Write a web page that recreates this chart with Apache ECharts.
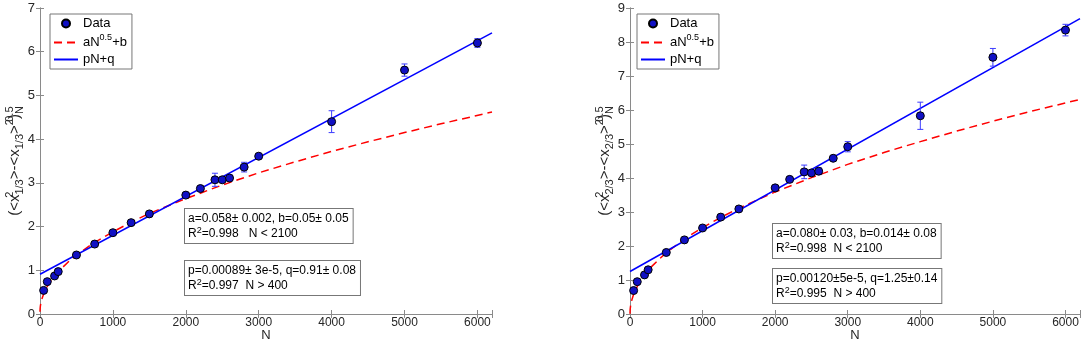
<!DOCTYPE html>
<html>
<head>
<meta charset="utf-8">
<script src="https://cdn.jsdelivr.net/npm/echarts@6/dist/echarts.min.js"></script>
<style>
  html, body { margin: 0; padding: 0; background: #fff; }
  #main { width: 1084px; height: 352px; }
</style>
</head>
<body>
<div id="main"></div>
<script>
// sample sizes (shared by both panels)
var nValues = [50, 100, 200, 250, 500, 750, 1000, 1250, 1500, 2000, 2200, 2400, 2500, 2600, 2800, 3000, 4000, 5000, 6000];

// left panel: x_{1/3}
var yLeft = [0.54, 0.74, 0.87, 0.97, 1.35, 1.60, 1.86, 2.09, 2.29, 2.72, 2.87, 3.07, 3.07, 3.11, 3.36, 3.61, 4.40, 5.58, 6.20];
var errLeft = [0.02, 0.02, 0.02, 0.02, 0.02, 0.02, 0.03, 0.03, 0.03, 0.03, 0.03, 0.15, 0.05, 0.07, 0.11, 0.04, 0.25, 0.14, 0.10];

// right panel: x_{2/3}
var yRight = [0.69, 0.95, 1.15, 1.30, 1.81, 2.18, 2.53, 2.85, 3.09, 3.71, 3.96, 4.18, 4.15, 4.20, 4.58, 4.92, 5.83, 7.55, 8.35];
var errRight = [0.02, 0.02, 0.02, 0.02, 0.02, 0.03, 0.03, 0.03, 0.03, 0.04, 0.04, 0.20, 0.08, 0.10, 0.06, 0.15, 0.40, 0.26, 0.17];

// fitted curves
var fitN = [0, 2, 5, 10, 25, 50, 100, 150, 200, 300, 400, 500, 750, 1000, 1250, 1500, 2000, 2500, 3000, 3500, 4000, 4500, 5000, 5500, 6200];
var sqrtFitLeft = [0.05, 0.13, 0.18, 0.23, 0.34, 0.46, 0.63, 0.76, 0.87, 1.05, 1.21, 1.35, 1.64, 1.88, 2.10, 2.30, 2.64, 2.95, 3.23, 3.48, 3.72, 3.94, 4.15, 4.35, 4.62];
var sqrtFitRight = [0.01, 0.13, 0.19, 0.27, 0.41, 0.58, 0.81, 0.99, 1.15, 1.40, 1.61, 1.80, 2.21, 2.54, 2.84, 3.11, 3.59, 4.01, 4.40, 4.75, 5.07, 5.38, 5.67, 5.95, 6.31];
var linN = [0, 6200];
var linFitLeft = [0.91, 6.43];
var linFitRight = [1.25, 8.69];

var font = '"Liberation Sans", Arial, sans-serif';
var axisGray = '#8a8a8a';
var labelColor = '#262626';

var myChart = echarts.init(document.getElementById('main'));

function pairs(xs, ys) {
    return xs.map(function (x, i) { return [x, ys[i]]; });
}
function triples(xs, ys, es) {
    return xs.map(function (x, i) { return [x, ys[i], es[i]]; });
}

function errorBarItem(params, api) {
    var x = api.value(0), y = api.value(1), e = api.value(2);
    var top = api.coord([x, y + e]);
    var bot = api.coord([x, y - e]);
    var hw = 3;
    var st = { stroke: '#3c3cff', lineWidth: 1 };
    return {
        type: 'group',
        children: [
            { type: 'line', shape: { x1: top[0], y1: top[1], x2: bot[0], y2: bot[1] }, style: st },
            { type: 'line', shape: { x1: top[0] - hw, y1: top[1], x2: top[0] + hw, y2: top[1] }, style: st },
            { type: 'line', shape: { x1: bot[0] - hw, y1: bot[1], x2: bot[0] + hw, y2: bot[1] }, style: st }
        ]
    };
}

// legend text
var legendRich = {
    n: { fontFamily: font, fontSize: 13, color: '#000' },
    sup: { fontFamily: font, fontSize: 9, color: '#000', verticalAlign: 'bottom', padding: [0, 0, 8, 0] }
};

// y axis title, sup0 has no width so it stacks over the following subscript
var nameRich = {
    n: { fontFamily: font, fontSize: 15, color: labelColor },
    sup0: { fontFamily: font, fontSize: 11, color: labelColor, width: 0, align: 'left', verticalAlign: 'bottom', padding: [0, 0, 10, 0] },
    sup: { fontFamily: font, fontSize: 11, color: labelColor, verticalAlign: 'bottom', padding: [0, 0, 10, 0] },
    sub: { fontFamily: font, fontSize: 11, color: labelColor, verticalAlign: 'top', padding: [10, 0, 0, 0] }
};

function yName(frac) {
    return '{n|(<x}{sup0|2}{sub|' + frac + '}{n|>-<x}{sub|' + frac + '}{n|>}{sup|2}{n|)}{sup0|0.5}{sub|N}';
}

function xAxisPair(gridIndex) {
    return [{
        gridIndex: gridIndex,
        type: 'value',
        min: 0,
        max: 6200,
        interval: 1000,
        name: 'N',
        nameLocation: 'middle',
        nameGap: 15,
        nameMoveOverlap: false,
        nameTextStyle: { fontFamily: font, fontSize: 13, color: labelColor },
        axisLine: { lineStyle: { color: axisGray } },
        axisTick: { inside: true, length: 4, lineStyle: { color: axisGray } },
        axisLabel: {
            margin: 3, fontFamily: font, fontSize: 12, color: labelColor,
            formatter: function (v) { return v % 1000 === 0 ? v : ''; }
        },
        splitLine: { show: false }
    }, {
        gridIndex: gridIndex,
        type: 'value',
        position: 'top',
        min: 0,
        max: 6200,
        interval: 1000,
        axisLine: { lineStyle: { color: axisGray } },
        axisTick: { inside: true, length: 4, lineStyle: { color: axisGray } },
        axisLabel: { show: false },
        splitLine: { show: false }
    }];
}

function yAxisPair(gridIndex, max, frac) {
    return [{
        gridIndex: gridIndex,
        type: 'value',
        min: 0,
        max: max,
        interval: 1,
        name: yName(frac),
        nameLocation: 'middle',
        nameGap: 15,
        nameMoveOverlap: false,
        nameTextStyle: { rich: nameRich },
        axisLine: { lineStyle: { color: axisGray } },
        axisTick: { inside: true, length: 4, lineStyle: { color: axisGray } },
        axisLabel: { margin: 5, fontFamily: font, fontSize: 13, color: labelColor },
        splitLine: { show: false }
    }, {
        gridIndex: gridIndex,
        type: 'value',
        position: 'right',
        min: 0,
        max: max,
        interval: 1,
        axisLine: { lineStyle: { color: axisGray } },
        axisTick: { inside: true, length: 4, lineStyle: { color: axisGray } },
        axisLabel: { show: false },
        splitLine: { show: false }
    }];
}

function panelSeries(axisIdx, ys, errs, sqrtFit, linFit) {
    return [{
        type: 'custom',
        xAxisIndex: axisIdx,
        yAxisIndex: axisIdx,
        renderItem: errorBarItem,
        encode: { x: 0, y: 1 },
        data: triples(nValues, ys, errs),
        z: 3
    }, {
        name: 'aN^0.5+b',
        type: 'line',
        xAxisIndex: axisIdx,
        yAxisIndex: axisIdx,
        data: pairs(fitN, sqrtFit),
        showSymbol: false,
        symbol: 'none',
        lineStyle: { color: '#ff0000', width: 1.5, type: [8, 5] },
        itemStyle: { color: '#ff0000' },
        z: 2
    }, {
        name: 'pN+q',
        type: 'line',
        xAxisIndex: axisIdx,
        yAxisIndex: axisIdx,
        data: pairs(linN, linFit),
        showSymbol: false,
        symbol: 'none',
        lineStyle: { color: '#0000ff', width: 1.5 },
        itemStyle: { color: '#0000ff' },
        z: 2
    }, {
        name: 'Data',
        type: 'scatter',
        xAxisIndex: axisIdx,
        yAxisIndex: axisIdx,
        data: pairs(nValues, ys),
        symbolSize: 8,
        itemStyle: { color: '#1010c4', borderColor: '#000', borderWidth: 1, opacity: 1 },
        z: 4
    }];
}

function legendBox(left) {
    return {
        orient: 'vertical',
        left: left,
        top: 14,
        padding: [2, 5, 2, 3],
        itemGap: 2,
        itemWidth: 24,
        itemHeight: 8,
        backgroundColor: '#fff',
        borderColor: '#777',
        borderWidth: 1,
        borderRadius: 0,
        selectedMode: false,
        data: [
            { name: 'Data', icon: 'circle' },
            { name: 'aN^0.5+b', itemStyle: { opacity: 0 } },
            { name: 'pN+q', itemStyle: { opacity: 0 } }
        ],
        formatter: function (name) {
            if (name === 'aN^0.5+b') return '{n|aN}{sup|0.5}{n|+b}';
            return '{n|' + name + '}';
        },
        textStyle: { rich: legendRich, lineHeight: 15 }
    };
}

var boxText = {
    r: { fontFamily: font, fontSize: 12, color: '#ff0000', lineHeight: 15 },
    rs: { fontFamily: font, fontSize: 9, color: '#ff0000', verticalAlign: 'bottom', padding: [0, 0, 7, 0] },
    b: { fontFamily: font, fontSize: 12, color: '#0000ff', lineHeight: 15 },
    bs: { fontFamily: font, fontSize: 9, color: '#0000ff', verticalAlign: 'bottom', padding: [0, 0, 7, 0] }
};

function noteBox(x, y, text) {
    return {
        type: 'text',
        left: x,
        top: y,
        z: 10,
        style: {
            text: text,
            rich: boxText,
            backgroundColor: '#fff',
            borderColor: '#777',
            borderWidth: 1,
            padding: [2, 4, 1, 3]
        }
    };
}

var chartData = {
    backgroundColor: '#fff',
    animation: false,
    grid: [
        { left: 40, right: 592, top: 8, bottom: 38 },
        { left: 630, right: 4, top: 8, bottom: 38 }
    ],
    xAxis: xAxisPair(0).concat(xAxisPair(1)),
    yAxis: yAxisPair(0, 7, '1/3').concat(yAxisPair(1, 9, '2/3')),
    legend: [legendBox(50), legendBox(637)],
    series: panelSeries(0, yLeft, errLeft, sqrtFitLeft, linFitLeft)
        .concat(panelSeries(2, yRight, errRight, sqrtFitRight, linFitRight)),
    graphic: [
        noteBox(184, 208, '{r|a=0.058± 0.002, b=0.05± 0.05}\n{r|R}{rs|2}{r|=0.998   N < 2100}'),
        noteBox(184, 260, '{b|p=0.00089± 3e-5, q=0.91± 0.08}\n{b|R}{bs|2}{b|=0.997  N > 400}'),
        noteBox(772, 223, '{r|a=0.080± 0.03, b=0.014± 0.08}\n{r|R}{rs|2}{r|=0.998  N < 2100}'),
        noteBox(772, 268, '{b|p=0.00120±5e-5, q=1.25±0.14}\n{b|R}{bs|2}{b|=0.995  N > 400}')
    ]
};

myChart.setOption(chartData);
</script>
</body>
</html>
